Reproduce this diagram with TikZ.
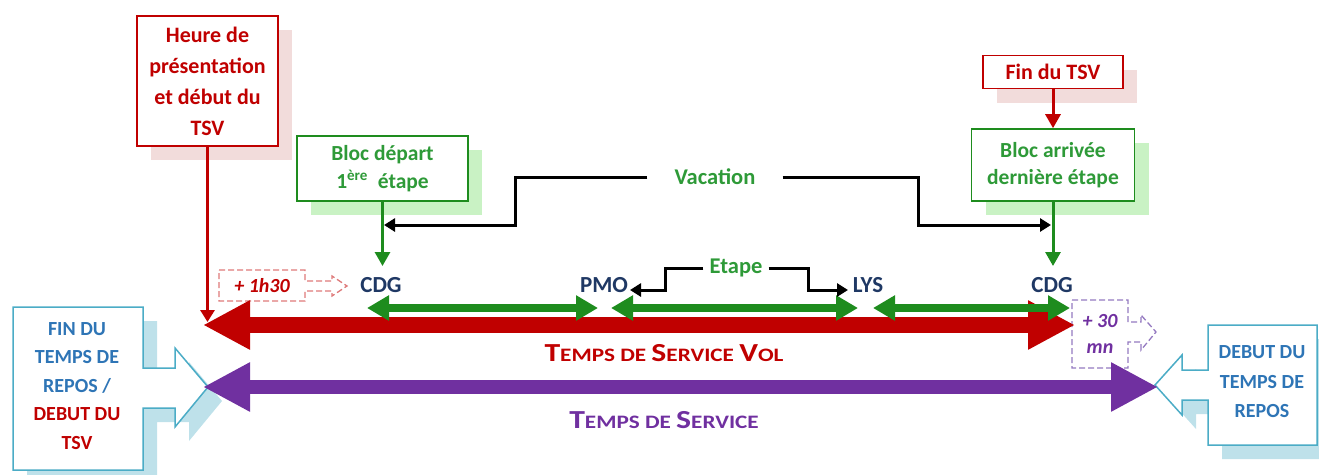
\documentclass[tikz,border=0pt]{standalone}
\usepackage{fontspec}
\setmainfont{Carlito}
\usetikzlibrary{arrows.meta,shadows}
\definecolor{myred}{HTML}{C00000}
\definecolor{pinkshade}{HTML}{F2DCDB}
\definecolor{mygreen}{HTML}{1E8C1E}
\definecolor{gtext}{HTML}{2E9A38}
\definecolor{greenshade}{HTML}{C9F2C4}
\definecolor{navy}{HTML}{1F3864}
\definecolor{mypurple}{HTML}{7030A0}
\definecolor{dpurple}{HTML}{9479C0}
\definecolor{dred}{HTML}{DE7A7A}
\definecolor{tealb}{HTML}{4BACC6}
\definecolor{tealshade}{HTML}{BEE1EA}
\definecolor{bluetext}{HTML}{2E75B6}
\newcommand\bigsc[2]{{\fontsize{26}{26}\selectfont #1}{\fontsize{19}{19}\selectfont #2}}
\begin{document}
\begin{tikzpicture}[x=1pt,y=-1pt,
  every node/.style={font=\bfseries},
  rbox/.style={draw=myred, line width=1.6pt, fill=white, align=center, inner sep=0pt, text=myred,
    font=\fontsize{22}{31}\selectfont\bfseries,
    general shadow={fill=pinkshade, shadow xshift=14pt, shadow yshift=-14pt}},
  gbox/.style={draw=mygreen, line width=1.6pt, fill=white, align=center, inner sep=0pt, text=gtext,
    font=\fontsize{21.5}{28}\selectfont\bfseries,
    general shadow={fill=greenshade, shadow xshift=14pt, shadow yshift=-14pt}},
  lbl/.style={text=navy, font=\fontsize{23}{23}\selectfont\bfseries, inner sep=1pt},
  glbl/.style={text=gtext, font=\fontsize{22.5}{22.5}\selectfont\bfseries},
  blk/.style={draw=black, line width=3pt, -{Triangle[length=11pt,width=13pt]}},
  garrow/.style={draw=mygreen, line width=8pt, {Triangle[length=22pt,width=24pt]}-{Triangle[length=22pt,width=24pt]}},
  bigarrow/.style={line width=#1, {Triangle[length=47pt,width=46pt]}-{Triangle[length=47pt,width=46pt]}},
  vline/.style={line width=3pt, -{Triangle[length=14pt,width=15pt]}},
  callout/.style={draw=tealb, line width=1.5pt, fill=white},
  dashbox/.style={dashed, dash pattern=on 6pt off 3pt, line width=1.3pt},
  dtext/.style={font=\fontsize{20}{20}\selectfont\bfseries\itshape}
]
\useasboundingbox (0,0) rectangle (1319,474);

% left callout
\fill[tealshade, shift={(14,14)}] (13,307) -- (143,307) -- (143,368) -- (175,368) -- (175,348) -- (208,387) -- (175,427) -- (175,408) -- (143,408) -- (143,470) -- (13,470) -- cycle;
\draw[callout] (13,307) -- (143,307) -- (143,368) -- (175,368) -- (175,348) -- (208,387) -- (175,427) -- (175,408) -- (143,408) -- (143,470) -- (13,470) -- cycle;
\node[align=center, font=\fontsize{20}{28.5}\selectfont\bfseries] (finrepos) at (77,386)
  {\textcolor{bluetext}{FIN DU}\\\textcolor{bluetext}{TEMPS DE}\\\textcolor{bluetext}{REPOS /}\\\textcolor{myred}{DEBUT DU}\\\textcolor{myred}{TSV}};

% right callout
\fill[tealshade, shift={(14,14)}] (1208,325) -- (1319,325) -- (1319,445) -- (1208,445) -- (1208,400) -- (1182,400) -- (1182,415) -- (1155,385) -- (1182,355) -- (1182,370) -- (1208,370) -- cycle;
\draw[callout] (1208,325) -- (1317,325) -- (1317,445) -- (1208,445) -- (1208,400) -- (1182,400) -- (1182,415) -- (1155,385) -- (1182,355) -- (1182,370) -- (1208,370) -- cycle;
\node[align=center, text=bluetext, font=\fontsize{20}{29.5}\selectfont\bfseries] (debrepos) at (1262,382)
  {DEBUT DU\\TEMPS DE\\REPOS};

% dashed callouts
\draw[dred, dashbox] (219,270) -- (305,270) -- (305,281) -- (332,281) -- (332,276) -- (347,286) -- (332,296) -- (332,291) -- (305,291) -- (305,301) -- (219,301) -- cycle;
\node[text=myred, dtext] (h130) at (262,286) {+ 1h30};
\draw[dpurple, dashbox] (1072,300) -- (1128,300) -- (1128,322) -- (1141,322) -- (1141,315) -- (1156,332) -- (1141,350) -- (1141,342) -- (1128,342) -- (1128,368) -- (1072,368) -- cycle;
\node[text=mypurple, dtext] (p30) at (1100,321) {+ 30};
\node[text=mypurple, dtext] (mn) at (1100,349) {mn};

% boxes
\node[rbox, minimum width=141pt, minimum height=130pt] (heure) at (207.5,81) {Heure de\\présentation\\et début du\\TSV};
\node[gbox, minimum width=171pt, minimum height=65pt] (depart) at (382.5,168.5) {Bloc départ\\1\textsuperscript{ère}\hspace{5pt} étape};
\node[rbox, minimum width=140pt, minimum height=33pt, font=\fontsize{22}{22}\selectfont\bfseries] (fin) at (1053,72) {Fin du TSV};
\node[gbox, minimum width=163pt, minimum height=72pt, font=\fontsize{21.5}{27}\selectfont\bfseries] (arrivee) at (1053,165) {Bloc arrivée\\dernière étape};

% labels
\node[lbl] (cdg1) at (381,285) {CDG};
\node[lbl] (pmo) at (604,285) {PMO};
\node[lbl] (lys) at (868,285) {LYS};
\node[lbl] (cdg2) at (1052,285) {CDG};
\node[glbl, inner xsep=27pt] (vacation) at (715,177) {Vacation};
\node[glbl, inner xsep=6pt] (etape) at (736,268) {Etape};

% coordinates
\coordinate (rl) at (203,325); \coordinate (rr) at (1075,325);
\coordinate (pl) at (203,387); \coordinate (pr) at (1158,387);
\coordinate (g1l) at (367,308); \coordinate (g1r) at (598,308);
\coordinate (g2l) at (611,308); \coordinate (g2r) at (858,308);
\coordinate (g3l) at (873,308); \coordinate (g3r) at (1070,308);
\coordinate (hd) at (207.5,322);
\coordinate (dtip) at (382.5,266);
\coordinate (atip) at (1053,266);
\coordinate (vl) at (384,225); \coordinate (vr) at (1051,225);
\coordinate (pmotip) at (630,290); \coordinate (lystip) at (848,290);

% big arrows
\draw[myred, bigarrow=16pt] (rl) -- (rr);
\draw[mypurple, bigarrow=14pt] (pl) -- (pr);
\draw[garrow] (g1l) -- (g1r);
\draw[garrow] (g2l) -- (g2r);
\draw[garrow] (g3l) -- (g3r);

% vertical connectors
\draw[myred, line width=3.5pt, -{Triangle[length=12pt,width=14pt]}] (heure.south) -- (hd);
\draw[myred, vline] (fin.south) -- (arrivee.north);
\draw[mygreen, vline] (depart.south) -- (dtip);
\draw[mygreen, vline] (arrivee.south) -- (atip);

% vacation / etape connectors
\draw[blk] (vacation.west) -- (515,177) -- (515,225) -- (vl);
\draw[blk] (vacation.east) -- (918,177) -- (918,225) -- (vr);
\draw[blk] (etape.west) -- (665,268) -- (665,290) -- (pmotip);
\draw[blk] (etape.east) -- (808,268) -- (808,290) -- (lystip);

% titles
\node[text=myred] (tsv) at (664,353) {\scalebox{1.22}[1]{\bigsc{T}{EMPS DE }\bigsc{S}{ERVICE }\bigsc{V}{OL}}};
\node[text=mypurple] (ts) at (664,420) {\scalebox{1.22}[1]{\bigsc{T}{EMPS DE }\bigsc{S}{ERVICE}}};
\end{tikzpicture}
\end{document}
